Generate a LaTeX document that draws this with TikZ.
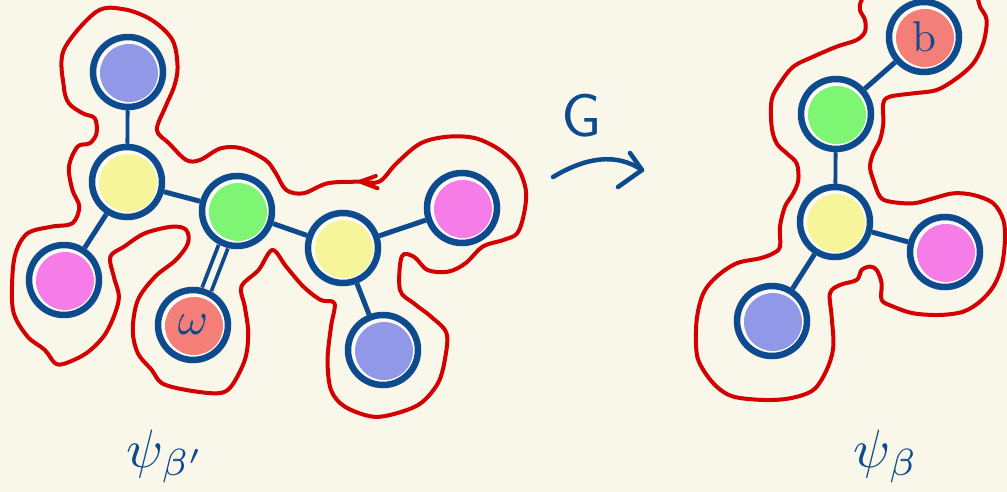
\documentclass[tikz,border=0pt]{standalone}
\usetikzlibrary{arrows.meta}
\definecolor{bg}{HTML}{F9F6EA}
\definecolor{ink}{HTML}{0D4A8E}
\definecolor{hull}{HTML}{D20000}
\definecolor{cblue}{HTML}{9198E8}
\definecolor{cyellow}{HTML}{F7F59A}
\definecolor{cgreen}{HTML}{7EF674}
\definecolor{cpink}{HTML}{F67DE8}
\definecolor{cred}{HTML}{F47E78}
\begin{document}
\begin{tikzpicture}[x=1pt,y=-1pt,
  atom/.style={circle, draw=ink, line width=6.5pt, minimum size=70pt, inner sep=0pt,
    fill=white!55!bg, text=ink,
    path picture={\fill[#1] ([xshift=1pt,yshift=-1pt]path picture bounding box.center) circle (29pt);}},
  bond/.style={draw=ink, line width=5pt},
  thinbond/.style={draw=ink, line width=3.8pt},
  contour/.style={draw=hull, line width=4pt, line join=round, line cap=round},
  script/.style={text=ink, inner sep=0pt},
  pen/.style={draw=ink, line width=4.5pt, line cap=round, line join=round},
]
\useasboundingbox (0,0) rectangle (1007,492);
\fill[bg] (0,0) rectangle (1007,492);
\clip (0,0) rectangle (1007,492);

% hull around the left molecule
\begin{scope}[x=0.3448pt, y=-0.3333pt]
\draw[contour] plot[smooth cycle, tension=0.55] coordinates {
 (185,150) (280,35) (360,28) (440,60) (500,120) (515,200) (505,260) (480,320)
 (455,390) (490,430) (540,480) (580,480) (640,445) (700,445) (770,480) (800,520)
 (830,570) (880,580) (950,550) (1040,545) (1100,545) (1150,490) (1220,430)
 (1300,410) (1380,415) (1450,450) (1500,500) (1525,570) (1520,640) (1500,700)
 (1460,720) (1400,740) (1350,790) (1300,815) (1240,810) (1200,770) (1165,770)
 (1160,870) (1200,910) (1250,950) (1295,1000) (1290,1080) (1270,1150)
 (1220,1210) (1150,1240) (1080,1250) (1000,1220) (960,1170) (950,1080)
 (960,980) (970,910) (930,900) (880,860) (830,800) (790,750) (750,810)
 (700,860) (710,920) (720,1000) (710,1080) (670,1160) (630,1180) (540,1170)
 (470,1150) (440,1110) (400,1060) (385,990) (400,900) (450,830) (510,780)
 (545,730) (540,690) (500,680) (420,700) (360,740) (320,770) (330,830)
 (345,890) (330,950) (300,1010) (250,1060) (190,1090) (160,1090) (130,1050)
 (80,1010) (40,940) (35,850) (45,760) (80,700) (150,680) (210,670) (230,620)
 (210,570) (200,500) (225,440) (260,430) (280,400) (275,355) (240,340)
 (200,310) (185,260)};
\draw[contour] (1090,528) -- (1045,545) -- (1095,565);
\end{scope}

% hull around the right molecule
\begin{scope}[xshift=680pt, x=0.3333pt, y=-0.3333pt]
\draw[contour] plot[smooth cycle, tension=0.55] coordinates {
 (545,0) (540,30) (555,60) (555,95) (530,120) (470,140) (400,170) (340,200)
 (300,250) (275,300) (275,380) (290,430) (320,460) (350,490) (355,540)
 (340,580) (315,620) (300,680) (300,740) (280,760) (240,775) (170,790)
 (110,830) (70,880) (50,960) (50,1060) (70,1110) (110,1160) (160,1190)
 (250,1200) (330,1195) (400,1170) (440,1110) (460,1040) (455,950) (450,880)
 (480,855) (530,840) (545,810) (570,800) (590,810) (605,850) (605,900)
 (640,920) (700,940) (780,945) (850,935) (900,905) (940,860) (965,800)
 (975,720) (970,660) (940,610) (880,585) (820,580) (760,595) (700,610)
 (630,605) (600,590) (580,540) (570,500) (580,460) (600,420) (610,370)
 (610,310) (630,290) (700,280) (770,270) (830,235) (880,190) (910,130)
 (920,60) (900,20) (890,-10) (850,-60) (720,-70) (580,-50)};
\end{scope}

% left molecule
\node[atom=cblue]   (l1) at (128,72)  {};
\node[atom=cyellow] (l2) at (127,182) {};
\node[atom=cgreen]  (l3) at (237,211) {};
\node[atom=cpink]   (l4) at (64,280)  {};
\node[atom=cred]    (l5) at (193,325) {\scalebox{4.6}{$\omega$}};
\node[atom=cyellow] (l6) at (343,248) {};
\node[atom=cpink]   (l7) at (462,208) {};
\node[atom=cblue]   (l8) at (383,350) {};

\draw[thinbond] (l1) -- (l2);
\draw[bond] (l2) -- (l3);
\draw[bond] (l2) -- (l4);
\draw[ink, line width=3.8pt, double=bg, double distance=6pt] (l3) -- (l5);
\draw[bond] (l3) -- (l6);
\draw[bond] (l6) -- (l7);
\draw[bond] (l6) -- (l8);

% right molecule
\node[atom=cred]    (r1) at (924,37)  {\scalebox{4.3}{b}};
\node[atom=cgreen]  (r2) at (836,114) {};
\node[atom=cyellow] (r3) at (835,222) {};
\node[atom=cpink]   (r4) at (945,252) {};
\node[atom=cblue]   (r5) at (772,321) {};

\draw[bond] (r1) -- (r2);
\draw[thinbond] (r2) -- (r3);
\draw[bond] (r3) -- (r4);
\draw[bond] (r3) -- (r5);

% map arrow, hand-drawn open head
\coordinate (gs) at (553,177);
\coordinate (ge) at (642,170);
\draw[pen] (gs) .. controls (585,158) and (615,152) .. (ge);
\draw[pen] (ge) ++(-12,-17) -- (ge) -- ++(-24,17);
\node[script] (glab) at (582,116) {\scalebox{6}{\sffamily G}};

% labels
\node[script] (lab1) at (166,456) {\scalebox{5.4}{$\psi_{\beta'}$}};
\node[script] (lab2) at (886,456) {\scalebox{5.4}{$\psi_{\beta}$}};
\end{tikzpicture}
\end{document}
